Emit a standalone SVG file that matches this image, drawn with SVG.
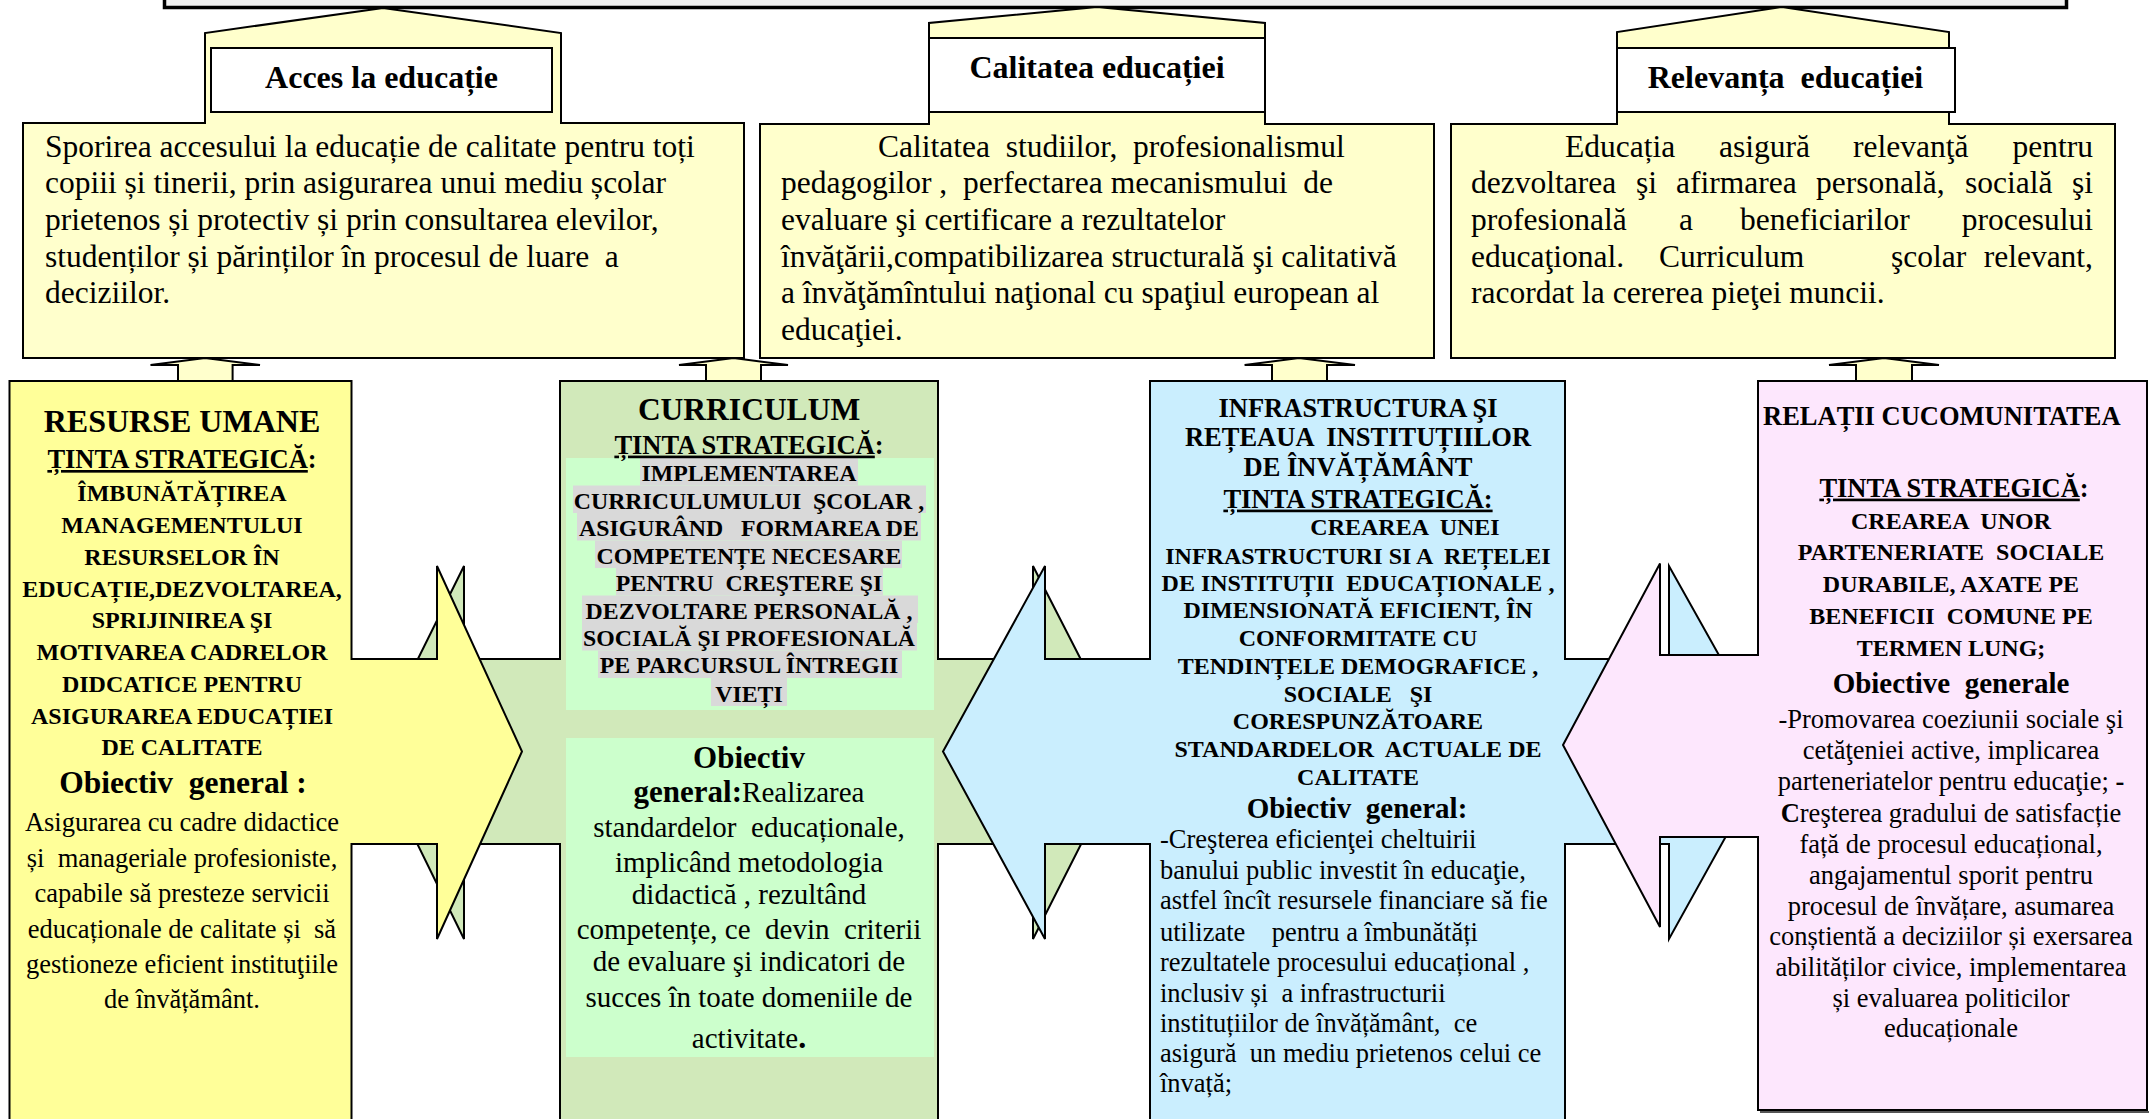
<svg xmlns="http://www.w3.org/2000/svg" width="2152" height="1119" viewBox="0 0 2152 1119" xml:space="preserve">
<style>
text{white-space:pre}
.t{font-family:"Liberation Serif","Times New Roman",serif;fill:#000;white-space:pre}
.b{font-weight:bold}
.c{text-anchor:middle}
.e{text-anchor:end}
.u{text-decoration:underline}
.ln{stroke:#000;stroke-width:2;stroke-linejoin:miter}
.top{fill:#FFFFCC}
.lbl{fill:#FFFFFF}
.tb{font-size:31.5px}
.lb{font-size:32px}
.hi{fill:#D9D9D9}
.in{fill:#CCFFCC}
</style>
<g id="top-bar"><rect x="164.5" y="-12" width="1902" height="19.5" fill="#F2F2F2" stroke="#000" stroke-width="3.5"/></g>
<g id="node-acces">
<polygon class="ln top" points="23,123 205,123 205,33 383,8 561,33 561,123 744,123 744,358 23,358"/>
<rect class="ln lbl" x="211" y="48" width="341" height="64"/>
<text class="t b c lb" x="381.5" y="88">Acces la educație</text>
<g class="t tb">
<text x="45" y="156.7">Sporirea accesului la educație de calitate pentru toți</text>
<text x="45" y="193.3">copiii și tinerii, prin asigurarea unui mediu școlar</text>
<text x="45" y="230">prietenos și protectiv și prin consultarea elevilor,</text>
<text x="45" y="266.7">studenților și părinților în procesul de luare  a</text>
<text x="45" y="303.3">deciziilor.</text>
</g>
</g>
<g id="node-calitatea">
<polygon class="ln top" points="760,124 929,124 929,23 1097,7 1265,23 1265,124 1434,124 1434,358 760,358"/>
<rect class="ln lbl" x="929" y="38" width="336" height="74"/>
<text class="t b c lb" x="1097" y="78">Calitatea educației</text>
<g class="t tb">
<text x="878" y="156.7">Calitatea  studiilor,  profesionalismul</text>
<text x="781" y="193.3">pedagogilor ,  perfectarea mecanismului  de</text>
<text x="781" y="230">evaluare şi certificare a rezultatelor</text>
<text x="781" y="266.7">învăţării,compatibilizarea structurală şi calitativă</text>
<text x="781" y="303.3">a învăţămîntului naţional cu spaţiul european al</text>
<text x="781" y="340">educaţiei.</text>
</g>
</g>
<g id="node-relevanta">
<polygon class="ln top" points="1451,124 1617,124 1617,32 1782,7 1949,32 1949,124 2115,124 2115,358 1451,358"/>
<rect class="ln lbl" x="1617" y="48" width="338" height="64"/>
<text class="t b c lb" x="1785.5" y="88">Relevanța  educației</text>
<g class="t tb">
<text x="1565" y="156.7">Educația</text><text x="1719" y="156.7">asigură</text><text x="1853" y="156.7">relevanţă</text><text class="e" x="2093" y="156.7">pentru</text>
<text x="1471" y="193.3">dezvoltarea</text><text x="1636" y="193.3">şi</text><text x="1676" y="193.3">afirmarea</text><text x="1816" y="193.3">personală,</text><text x="1965" y="193.3">socială</text><text class="e" x="2093" y="193.3">şi</text>
<text x="1471" y="230">profesională</text><text x="1679" y="230">a</text><text x="1740" y="230">beneficiarilor</text><text class="e" x="2093" y="230">procesului</text>
<text x="1471" y="266.7">educaţional.</text><text x="1659" y="266.7">Curriculum</text><text x="1891" y="266.7">şcolar</text><text class="e" x="2093" y="266.7">relevant,</text>
<text x="1471" y="303.3">racordat la cererea pieţei muncii.</text>
</g>
</g>
<g id="connectors" fill="#FFFFCC" stroke="#000" stroke-width="2">
<polygon points="178,381 178,365 150.5,365 205,358 260,365 232.6,365 232.6,381"/>
<polygon points="706,381 706,365 679,365 733.5,358 788,365 761,365 761,381"/>
<polygon points="1272,381 1272,365 1244.6,365 1299,358 1355,365 1327,365 1327,381"/>
<polygon points="1856,381 1856,365 1829,365 1884,358 1939,365 1912,365 1912,381"/>
</g>
<g id="node-curriculum">
<polygon class="ln" fill="#D1E9BA" points="560,381 938,381 938,659 1033,659 1033,566 1128,751.5 1033,939 1033,844 938,844 938,1135 560,1135 560,844 464,844 464,939 372,751.5 464,566 464,659 560,659"/>
<rect class="in" x="566" y="458" width="368" height="252"/>
<rect class="in" x="566" y="738" width="368" height="319"/>
<rect class="hi" x="640" y="458" width="218" height="27.5"/>
<rect class="hi" x="573" y="485.5" width="353" height="27.5"/>
<rect class="hi" x="577" y="513" width="344" height="27.5"/>
<rect class="hi" x="595" y="540.5" width="307" height="27.5"/>
<rect class="hi" x="616" y="568" width="267" height="27.5"/>
<rect class="hi" x="582" y="595.5" width="336" height="27.5"/>
<rect class="hi" x="582" y="623" width="335" height="27.5"/>
<rect class="hi" x="598" y="650.5" width="304" height="27.5"/>
<rect class="hi" x="711" y="678" width="76" height="28"/>
<text class="t b c" x="749" y="420" font-size="31.5px">CURRICULUM</text>
<text class="t b c" x="749" y="453.6" font-size="26.5px"><tspan class="u">ȚINTA STRATEGICĂ</tspan>:</text>
<g class="t b c" font-size="23.8px">
<text x="749" y="481">IMPLEMENTAREA</text>
<text x="749" y="508.6">CURRICULUMULUI  ŞCOLAR ,</text>
<text x="749" y="536">ASIGURÂND   FORMAREA DE</text>
<text x="749" y="563.5">COMPETENȚE NECESARE</text>
<text x="749" y="590.7">PENTRU  CREŞTERE ŞI</text>
<text x="749" y="618.5">DEZVOLTARE PERSONALĂ ,</text>
<text x="749" y="645.7">SOCIALĂ ŞI PROFESIONALĂ</text>
<text x="749" y="673.4">PE PARCURSUL ÎNTREGII</text>
<text x="749" y="702">VIEȚI</text>
</g>
<text class="t b c" x="749" y="767.5" font-size="31px">Obiectiv</text>
<text class="t c" x="749" y="802" font-size="29px"><tspan class="b" font-size="31px">general:</tspan>Realizarea</text>
<g class="t c" font-size="29px">
<text x="749" y="837.3">standardelor  educaționale,</text>
<text x="749" y="871.7">implicând metodologia</text>
<text x="749" y="904.2">didactică , rezultând</text>
<text x="749" y="938.6">competențe, ce  devin  criterii</text>
<text x="749" y="971">de evaluare şi indicatori de</text>
<text x="749" y="1006.9">succes în toate domeniile de</text>
<text x="749" y="1047.5">activitate<tspan class="b" font-size="32px">.</tspan></text>
</g>
</g>
<g id="node-resurse">
<polygon class="ln" fill="#FFFF99" points="9.5,381 351.5,381 351.5,659 437,659 437,566 522,751.5 437,939 437,844 351.5,844 351.5,1135 9.5,1135"/>
<text class="t b c" x="182" y="432" font-size="32px">RESURSE UMANE</text>
<text class="t b c" x="182" y="468" font-size="26.5px"><tspan class="u">ȚINTA STRATEGICĂ</tspan>:</text>
<g class="t b c" font-size="24px">
<text x="182" y="501.4">ÎMBUNĂTĂȚIREA</text>
<text x="182" y="533.4">MANAGEMENTULUI</text>
<text x="182" y="564.9">RESURSELOR ÎN</text>
<text x="182" y="597">EDUCAȚIE,DEZVOLTAREA,</text>
<text x="182" y="628">SPRIJINIREA ŞI</text>
<text x="182" y="660">MOTIVAREA CADRELOR</text>
<text x="182" y="691.5">DIDCATICE PENTRU</text>
<text x="182" y="723.6">ASIGURAREA EDUCAȚIEI</text>
<text x="182" y="754.6">DE CALITATE</text>
</g>
<text class="t b c" x="183" y="793" font-size="31.5px">Obiectiv  general :</text>
<g class="t c" font-size="26.5px">
<text x="182" y="831">Asigurarea cu cadre didactice</text>
<text x="182" y="867">și  manageriale profesioniste,</text>
<text x="182" y="902">capabile să presteze servicii</text>
<text x="182" y="938">educaționale de calitate și  să</text>
<text x="182" y="973">gestioneze eficient instituţiile</text>
<text x="182" y="1008">de învățământ.</text>
</g>
</g>
<g id="node-infrastructura">
<polygon class="ln" fill="#CAEEFE" points="1150,381 1565,381 1565,659 1669,659 1669,566 1773,751.5 1669,939 1669,844 1565,844 1565,1135 1150,1135 1150,844 1045,844 1045,939 943,751.5 1045,566 1045,659 1150,659"/>
<g class="t b c" font-size="26.5px">
<text x="1358" y="417">INFRASTRUCTURA ŞI</text>
<text x="1358" y="446.4">REȚEAUA  INSTITUȚIILOR</text>
<text x="1358" y="476">DE ÎNVĂȚĂMÂNT</text>
<text class="u" x="1358" y="507.6">ȚINTA STRATEGICĂ:</text>
</g>
<g class="t b c" font-size="24px">
<text x="1405" y="534.8">CREAREA  UNEI</text>
<text x="1358" y="563.5">INFRASTRUCTURI SI A  REȚELEI</text>
<text x="1358" y="590.7">DE INSTITUȚII  EDUCAȚIONALE ,</text>
<text x="1358" y="618.4">DIMENSIONATĂ EFICIENT, ÎN</text>
<text x="1358" y="646.2">CONFORMITATE CU</text>
<text x="1358" y="674.3">TENDINȚELE DEMOGRAFICE ,</text>
<text x="1358" y="702">SOCIALE   ŞI</text>
<text x="1358" y="729.3">CORESPUNZĂTOARE</text>
<text x="1358" y="757">STANDARDELOR  ACTUALE DE</text>
<text x="1358" y="784.7">CALITATE</text>
</g>
<text class="t b c" x="1357" y="817.7" font-size="29px">Obiectiv  general:</text>
<g class="t" font-size="26.5px">
<text x="1160" y="847.8">-Creşterea eficienţei cheltuirii</text>
<text x="1160" y="878.8">banului public investit în educaţie,</text>
<text x="1160" y="909">astfel încît resursele financiare să fie</text>
<text x="1160" y="941">utilizate    pentru a îmbunătăți</text>
<text x="1160" y="971">rezultatele procesului educațional ,</text>
<text x="1160" y="1001.6">inclusiv și  a infrastructurii</text>
<text x="1160" y="1031.7">instituțiilor de învățământ,  ce</text>
<text x="1160" y="1061.8">asigură  un mediu prietenos celui ce</text>
<text x="1160" y="1092.4">învață;</text>
</g>
</g>
<g id="node-relatii">
<polygon class="ln" fill="#FDE7FD" points="1758,381 2147,381 2147,1110 1758,1110 1758,837 1660,837 1660,927 1563,745 1660,563.5 1660,655 1758,655"/>
<line x1="1760" y1="1112" x2="2149" y2="1112" stroke="#555" stroke-width="2"/>
<text class="t b" x="1763" y="425" font-size="26.5px">RELAȚII CUCOMUNITATEA</text>
<text class="t b c" x="1954" y="496.6" font-size="26.5px"><tspan class="u">ȚINTA STRATEGICĂ</tspan>:</text>
<g class="t b c" font-size="24px">
<text x="1951" y="528.6">CREAREA  UNOR</text>
<text x="1951" y="560">PARTENERIATE  SOCIALE</text>
<text x="1951" y="592">DURABILE, AXATE PE</text>
<text x="1951" y="624">BENEFICII  COMUNE PE</text>
<text x="1951" y="655.7">TERMEN LUNG;</text>
</g>
<text class="t b c" x="1951" y="692.5" font-size="29px">Obiective  generale</text>
<g class="t c" font-size="26.5px">
<text x="1951" y="728.3">-Promovarea coeziunii sociale şi</text>
<text x="1951" y="759.4">cetăţeniei active, implicarea</text>
<text x="1951" y="790.4">parteneriatelor pentru educaţie; <tspan class="b">-</tspan></text>
<text x="1951" y="821.5"><tspan class="b">C</tspan>reşterea gradului de satisfacție</text>
<text x="1951" y="852.6">față de procesul educațional,</text>
<text x="1951" y="883.6">angajamentul sporit pentru</text>
<text x="1951" y="914.7">procesul de învățare, asumarea</text>
<text x="1951" y="944.8">conștientă a deciziilor și exersarea</text>
<text x="1951" y="975.8">abilităților civice, implementarea</text>
<text x="1951" y="1006.9">și evaluarea politicilor</text>
<text x="1951" y="1036.5">educaționale</text>
</g>
</g>
</svg>
